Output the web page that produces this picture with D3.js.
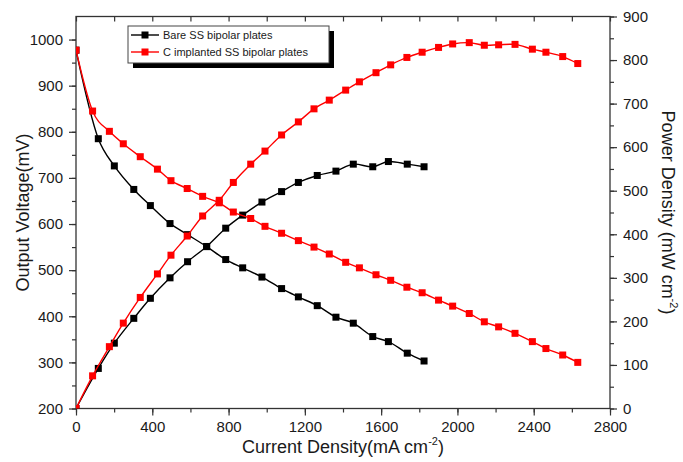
<!DOCTYPE html>
<html>
<head>
<meta charset="utf-8">
<script src="https://cdn.jsdelivr.net/npm/d3@7"></script>
<style>
  html, body { margin: 0; padding: 0; background: #fff; }
  svg { display: block; font-family: "Liberation Sans", Arial, sans-serif; }
</style>
</head>
<body>
<svg id="chart" width="683" height="462"></svg>
<script>
// ---- Data ----
const seriesNames = ["Bare SS bipolar plates", "C implanted SS bipolar plates"];

const bareCurrent = [0, 117, 201, 303, 390, 493, 585, 685, 785, 874, 975, 1078, 1166, 1265, 1363, 1454, 1556, 1638, 1737, 1825];
const bareVoltage = [977, 785, 726, 675, 640, 601, 577, 551, 523, 505, 485, 460, 442, 423, 398, 385, 356, 345, 320, 303];
const barePower   = [0, 92, 150, 207, 253, 300, 337, 372, 414, 444, 474, 498, 519, 535, 545, 561, 555, 567, 561, 555];

const cCurrent = [0, 87, 175, 248, 337, 427, 498, 583, 664, 751, 825, 916, 991, 1078, 1166, 1248, 1328, 1414, 1486, 1573, 1650, 1735, 1815, 1901, 1975, 2062, 2141, 2216, 2302, 2393, 2464, 2552, 2631];
const cVoltage = [977, 845, 801, 774, 746, 719, 694, 677, 660, 646, 626, 612, 595, 580, 564, 550, 535, 517, 505, 490, 478, 463, 451, 435, 422, 406, 388, 377, 363, 345, 330, 316, 300];
const cPower   = [0, 75, 142, 196, 255, 309, 352, 396, 442, 478, 519, 561, 591, 628, 658, 688, 708, 731, 750, 771, 789, 806, 818, 829, 837, 840, 834, 835, 836, 825, 818, 808, 792];

const xTicks = [0, 400, 800, 1200, 1600, 2000, 2400, 2800];
const yLeftTicks = [200, 300, 400, 500, 600, 700, 800, 900, 1000];
const yRightTicks = [0, 100, 200, 300, 400, 500, 600, 700, 800, 900];

// ---- Layout ----
const W = 683, H = 462;
const plot = { left: 76, right: 610, top: 16.5, bottom: 408.5 };
const axisColor = "#333";
const textColor = "#1a1a1a";

const svg = d3.select("#chart");

const x = d3.scaleLinear().domain([0, 2800]).range([plot.left, plot.right]);
const yV = d3.scaleLinear().domain([200, 1050]).range([plot.bottom, plot.top]);
const yP = d3.scaleLinear().domain([0, 900]).range([plot.bottom, plot.top]);

// clip
svg.append("defs").append("clipPath").attr("id", "clip")
  .append("rect")
  .attr("x", plot.left).attr("y", plot.top)
  .attr("width", plot.right - plot.left).attr("height", plot.bottom - plot.top);

// ---- Axes ----
function styleAxis(g) {
  g.selectAll(".domain").remove();
  g.selectAll(".tick line").attr("stroke", axisColor).attr("stroke-width", 1.2);
  g.selectAll(".tick text").attr("fill", textColor).attr("font-size", 15)
    .attr("font-family", "'Liberation Sans', Arial, sans-serif");
}

const xMinor = d3.range(0, 2801, 200);
const vMinor = d3.range(200, 1001, 50);
const pMinor = d3.range(0, 901, 50);

// bottom
svg.append("g").attr("transform", `translate(0,${plot.bottom})`)
  .call(d3.axisBottom(x).tickValues(xMinor).tickSize(4).tickFormat(""))
  .call(styleAxis);
svg.append("g").attr("transform", `translate(0,${plot.bottom})`)
  .call(d3.axisBottom(x).tickValues(xTicks).tickSize(7).tickPadding(6).tickFormat(d3.format("d")))
  .call(styleAxis);
// top (inward)
svg.append("g").attr("transform", `translate(0,${plot.top})`)
  .call(d3.axisTop(x).tickValues(xMinor).tickSize(-5).tickFormat(""))
  .call(styleAxis);
// left
svg.append("g").attr("transform", `translate(${plot.left},0)`)
  .call(d3.axisLeft(yV).tickValues(vMinor).tickSize(4).tickFormat(""))
  .call(styleAxis);
svg.append("g").attr("transform", `translate(${plot.left},0)`)
  .call(d3.axisLeft(yV).tickValues(yLeftTicks).tickSize(7).tickPadding(6).tickFormat(d3.format("d")))
  .call(styleAxis);
// right
svg.append("g").attr("transform", `translate(${plot.right},0)`)
  .call(d3.axisRight(yP).tickValues(pMinor).tickSize(4).tickFormat(""))
  .call(styleAxis);
svg.append("g").attr("transform", `translate(${plot.right},0)`)
  .call(d3.axisRight(yP).tickValues(yRightTicks).tickSize(7).tickPadding(6).tickFormat(d3.format("d")))
  .call(styleAxis);

// frame
svg.append("rect")
  .attr("x", plot.left).attr("y", plot.top)
  .attr("width", plot.right - plot.left).attr("height", plot.bottom - plot.top)
  .attr("fill", "none").attr("stroke", axisColor).attr("stroke-width", 1.3);

// ---- Series ----
const marks = svg.append("g").attr("clip-path", "url(#clip)");
const ms = 7;

function drawSeries(cur, vals, yScale, color, curve) {
  const pts = cur.map((c, i) => [c, vals[i]]);
  const line = d3.line().x(d => x(d[0])).y(d => yScale(d[1])).curve(curve);
  marks.append("path").datum(pts)
    .attr("d", line).attr("fill", "none")
    .attr("stroke", color).attr("stroke-width", 1.4);
  marks.append("g").selectAll("rect").data(pts).join("rect")
    .attr("x", d => x(d[0]) - ms / 2).attr("y", d => yScale(d[1]) - ms / 2)
    .attr("width", ms).attr("height", ms).attr("fill", color);
}

drawSeries(bareCurrent, bareVoltage, yV, "#000", d3.curveMonotoneX);
drawSeries(bareCurrent, barePower, yP, "#000", d3.curveCatmullRom);
drawSeries(cCurrent, cVoltage, yV, "#ff0000", d3.curveMonotoneX);
drawSeries(cCurrent, cPower, yP, "#ff0000", d3.curveCatmullRom);

// ---- Axis titles ----
svg.append("text")
  .attr("transform", `translate(29,${(plot.top + plot.bottom) / 2}) rotate(-90)`)
  .attr("text-anchor", "middle").attr("font-size", 18).attr("fill", textColor)
  .text("Output Voltage(mV)");

const xt = svg.append("text")
  .attr("x", (plot.left + plot.right) / 2).attr("y", 453)
  .attr("text-anchor", "middle").attr("font-size", 18).attr("fill", textColor);
xt.append("tspan").text("Current Density(mA cm");
xt.append("tspan").attr("font-size", 11).attr("dy", -8).text("-2");
xt.append("tspan").attr("dy", 8).text(")");

const yt = svg.append("text")
  .attr("transform", `translate(662,${(plot.top + plot.bottom) / 2}) rotate(90)`)
  .attr("text-anchor", "middle").attr("font-size", 18).attr("fill", textColor);
yt.append("tspan").text("Power Density (mW cm");
yt.append("tspan").attr("font-size", 11).attr("dy", -8).text("-2");
yt.append("tspan").attr("dy", 8).text(")");

// ---- Legend ----
const lg = svg.append("g");
const lb = { x: 128, y: 26, w: 201, h: 37 };
lg.append("rect").attr("x", lb.x + 5).attr("y", lb.y + 5).attr("width", lb.w).attr("height", lb.h).attr("fill", "#000");
lg.append("rect").attr("x", lb.x).attr("y", lb.y).attr("width", lb.w).attr("height", lb.h)
  .attr("fill", "#fff").attr("stroke", "#444").attr("stroke-width", 1);
const legendColors = ["#000", "#ff0000"];
seriesNames.forEach((name, i) => {
  const cy = lb.y + 9 + i * 17;
  lg.append("line").attr("x1", lb.x + 3).attr("x2", lb.x + 31).attr("y1", cy).attr("y2", cy)
    .attr("stroke", legendColors[i]).attr("stroke-width", 1.4);
  lg.append("rect").attr("x", lb.x + 17 - ms / 2).attr("y", cy - ms / 2).attr("width", ms).attr("height", ms)
    .attr("fill", legendColors[i]);
  lg.append("text").attr("x", lb.x + 35).attr("y", cy + 4).attr("font-size", 11).attr("fill", textColor)
    .text(name);
});
</script>
</body>
</html>
